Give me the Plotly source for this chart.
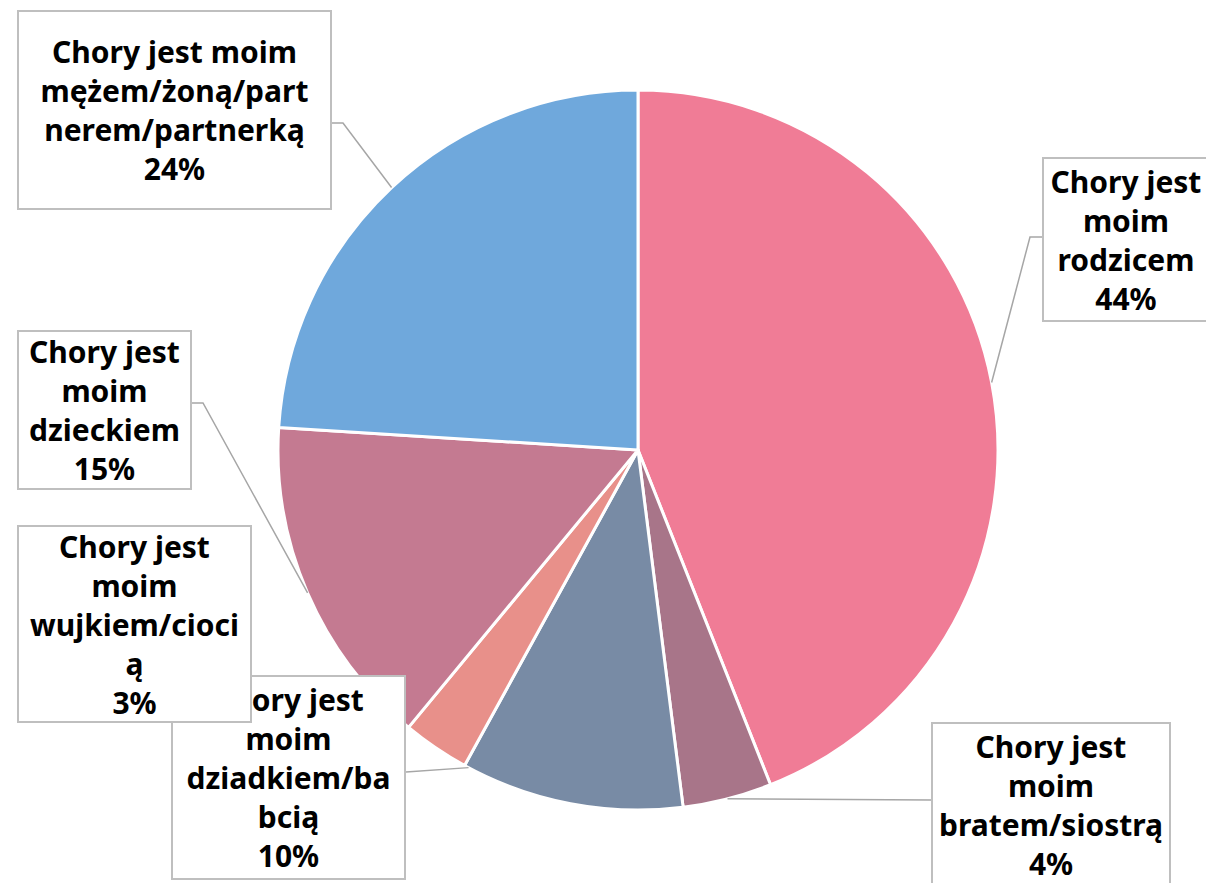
import math
import plotly.graph_objects as go

# Relationship of the respondent to the ill person (share of answers, %)
categories = [
    "Chory jest moim rodzicem",
    "Chory jest moim bratem/siostrą",
    "Chory jest moim dziadkiem/babcią",
    "Chory jest moim wujkiem/ciocią",
    "Chory jest moim dzieckiem",
    "Chory jest moim mężem/żoną/partnerem/partnerką",
]
values = [44, 4, 10, 3, 15, 24]
colors = ["#F07C96", "#A87589", "#788BA5", "#E8908A", "#C47A91", "#6FA8DC"]

# Label text as broken inside each callout box
label_lines = [
    ["Chory jest", "moim", "rodzicem"],
    ["Chory jest", "moim", "bratem/siostrą"],
    ["Chory jest", "moim", "dziadkiem/ba", "bcią"],
    ["Chory jest", "moim", "wujkiem/cioci", "ą"],
    ["Chory jest", "moim", "dzieckiem"],
    ["Chory jest moim", "mężem/żoną/part", "nerem/partnerką"],
]

W, H = 1206, 883
CX, CY, R = 638, 450, 360  # pie centre and radius in pixels

# callout boxes: left, top, width, height (pixels)
boxes = [
    (1042, 157, 168, 165),
    (931, 722, 240, 165),
    (171, 675, 235, 205),
    (17, 525, 235, 198),
    (17, 330, 175, 160),
    (17, 10, 315, 200),
]
# where each leader line attaches to its box, and the elbow point
leaders = [
    ((1042, 237), (1030, 237), "mid"),
    ((931, 800), (931, 800), "mid"),
    ((406, 772), (406, 772), "end"),
    None,
    ((192, 403), (203, 403), "mid"),
    ((332, 123), (343, 123), "mid"),
]

total = sum(values)


def px_to_paper(x, y):
    return x / W, 1 - y / H


def rim_point(frac):
    a = 2 * math.pi * frac
    return CX + R * math.sin(a), CY - R * math.cos(a)


fig = go.Figure(
    go.Pie(
        labels=categories,
        values=values,
        sort=False,
        direction="clockwise",
        rotation=0,
        marker=dict(colors=colors, line=dict(color="white", width=3)),
        textinfo="none",
        hoverinfo="label+percent",
        showlegend=False,
        domain=dict(
            x=[(CX - R) / W, (CX + R) / W],
            y=[1 - (CY + R) / H, 1 - (CY - R) / H],
        ),
    )
)

shapes = []
annotations = []
cum = 0
for i, v in enumerate(values):
    start = cum / total
    cum += v
    end = cum / total
    mid = (start + end) / 2

    ld = leaders[i]
    if ld is not None:
        (bx, by), (ex, ey), where = ld
        tx, ty = rim_point(mid if where == "mid" else end - 0.002)
        p = [px_to_paper(bx, by), px_to_paper(ex, ey), px_to_paper(tx, ty)]
        path = "M {} {} L {} {} L {} {}".format(
            p[0][0], p[0][1], p[1][0], p[1][1], p[2][0], p[2][1]
        )
        shapes.append(
            dict(type="path", xref="paper", yref="paper", path=path,
                 line=dict(color="#A6A6A6", width=1.5))
        )

# draw order of the boxes: later ones sit on top
order = [0, 1, 2, 3, 4, 5]
for i in order:
    left, top, bw, bh = boxes[i]
    pct = round(values[i] / total * 100)
    text = "<br>".join(label_lines[i] + [f"{pct}%"])
    x, y = px_to_paper(left, top)
    annotations.append(
        dict(
            x=x, y=y, xref="paper", yref="paper",
            xanchor="left", yanchor="top",
            text=text, showarrow=False,
            align="center", valign="middle",
            width=bw - 4, height=bh - 4,
            bgcolor="white", bordercolor="#BFBFBF", borderwidth=2, borderpad=0,
            font=dict(family="Noto Sans", size=30, color="black", weight="bold"),
        )
    )

fig.update_layout(
    width=W, height=H,
    margin=dict(l=0, r=0, t=0, b=0),
    paper_bgcolor="white", plot_bgcolor="white",
    shapes=shapes, annotations=annotations,
)

fig.write_html("out.html")
